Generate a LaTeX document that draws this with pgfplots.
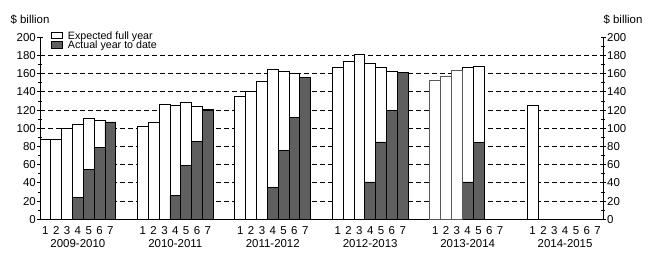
\documentclass[border=0pt]{standalone}
\usepackage{fontspec}
\setmainfont{Liberation Sans}
\usepackage{pgfplots}
\pgfplotsset{compat=1.18}
\definecolor{actual}{RGB}{95,95,95}
\pgfplotsset{
  common/.style={
    scale only axis, width=563bp, height=182bp,
    xmin=0.5, xmax=52.5, ymin=0, ymax=200,
    /pgf/number format/assume math mode=true,
    ticklabel style={font=\fontsize{11.5}{12}\selectfont},
    tick align=outside,
    major tick length=5bp, minor tick length=4bp,
    tick style={black, line width=0.8bp},
    ytick={0,20,...,200}, minor y tick num=1,
    clip=false,
  }
}
\begin{document}
\begin{tikzpicture}
\path[use as bounding box] (-40bp,-37.7bp) rectangle (617bp,219.3bp);
\begin{axis}[common,
  axis x line=bottom, axis y line=left,
  axis line style={-, line width=0.8bp},
  ytick={0,20,...,180}, extra y ticks={200}, extra y tick style={grid=none},
  ymajorgrids, major grid style={dashed, black, line width=0.8bp, dash pattern=on 5bp off 3bp},
  xtick={1,2,3,4,5,6,7,10,11,12,13,14,15,16,19,20,21,22,23,24,25,28,29,30,31,32,33,34,37,38,39,40,41,42,43,46,47,48,49,50,51,52},
  xticklabels={1,2,3,4,5,6,7,1,2,3,4,5,6,7,1,2,3,4,5,6,7,1,2,3,4,5,6,7,1,2,3,4,5,6,7,1,2,3,4,5,6,7},
  x tick style={draw=none},
  xticklabel style={yshift=-1bp},
  yticklabel style={inner xsep=1.5bp},
  legend style={draw=none, fill=none, at={(rel axis cs:0.0195,1.033)}, anchor=north west,
    inner sep=0pt, row sep=0pt, column sep=5bp,
    font=\fontsize{10.7}{10}\selectfont,
    nodes={inner sep=0pt, text height=7.7bp, text depth=1.6bp}},
  legend image code/.code={\draw[#1, line width=0.8bp] (0bp,-2.5bp) rectangle (11bp,4bp);},
  legend cell align=left,
]
% Expected full year
\addplot[ybar, bar width=1, bar shift=0pt, fill=white, draw=black, line width=0.8bp] coordinates {
(1,88) (2,88) (3,100) (4,104) (5,111) (6,109) (7,107)
(10,102) (11,107) (12,126) (13,125) (14,129) (15,124) (16,121)
(19,135) (20,140) (21,151) (22,165) (23,162) (24,160) (25,156)
(28,167) (29,174) (30,181) (31,171) (32,167) (33,163) (34,161)
(40,167) (41,168)
(46,125)
};
\addlegendentry{Expected full year}
% Actual year to date
\addplot[ybar, bar width=1, bar shift=0pt, fill=actual, draw=black, line width=0.8bp] coordinates {
(4,24) (5,55) (6,79) (7,107)
(13,26) (14,59) (15,86) (16,120)
(22,35) (23,76) (24,112) (25,156)
(31,41) (32,85) (33,120) (34,161)
(40,41) (41,84)
};
\addlegendentry{Actual year to date}
% 2013-2014 early expectations (grey outline)
\addplot[ybar, bar width=1, bar shift=0pt, fill=white, draw=black!65, line width=1bp, forget plot] coordinates {
(37,152) (38,157) (39,163)
};
\node[font=\fontsize{11.5}{12}\selectfont, anchor=north] at (axis cs:4,0) [yshift=-16.5bp] {2009-2010};
\node[font=\fontsize{11.5}{12}\selectfont, anchor=north] at (axis cs:13,0) [yshift=-16.5bp] {2010-2011};
\node[font=\fontsize{11.5}{12}\selectfont, anchor=north] at (axis cs:22,0) [yshift=-16.5bp] {2011-2012};
\node[font=\fontsize{11.5}{12}\selectfont, anchor=north] at (axis cs:31,0) [yshift=-16.5bp] {2012-2013};
\node[font=\fontsize{11.5}{12}\selectfont, anchor=north] at (axis cs:40,0) [yshift=-16.5bp] {2013-2014};
\node[font=\fontsize{11.5}{12}\selectfont, anchor=north] at (axis cs:49,0) [yshift=-16.5bp] {2014-2015};
\node[font=\fontsize{11.5}{12}\selectfont, anchor=base] at (rel axis cs:0,1) [xshift=-10bp, yshift=14bp] {\$ billion};
\node[font=\fontsize{11.5}{12}\selectfont, anchor=base] at (rel axis cs:1,1) [xshift=20bp, yshift=14bp] {\$ billion};
\end{axis}
\begin{axis}[common,
  axis x line=none, axis y line=right,
  axis line style={-, line width=0.8bp},
  yticklabel style={inner xsep=1.5bp},
]
\addplot[draw=none, forget plot] coordinates {(1,0)};
\end{axis}
\end{tikzpicture}
\end{document}
